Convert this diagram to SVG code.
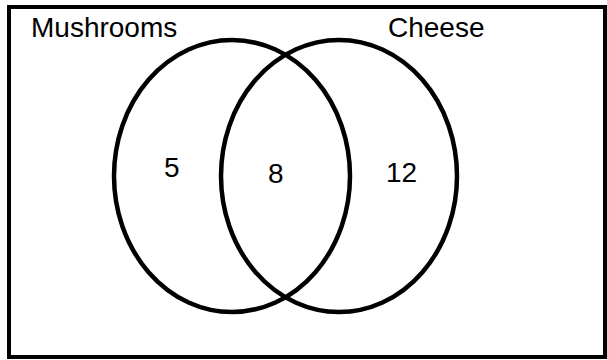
<svg xmlns="http://www.w3.org/2000/svg" width="607" height="360" viewBox="0 0 607 360">
<style>
.lbl{font-family:"Liberation Sans",Arial,sans-serif;font-size:28px;fill:#000}
.set{fill:none;stroke:#000;stroke-width:4.5}
</style>
<rect x="0" y="0" width="607" height="360" fill="#fff"/>
<g id="universe">
<rect x="9" y="7" width="596" height="350" fill="none" stroke="#000" stroke-width="4"/>
</g>
<g id="mushrooms">
<ellipse class="set" cx="232" cy="176" rx="118" ry="136"/>
<text class="lbl" x="31" y="37">Mushrooms</text>
</g>
<g id="cheese">
<ellipse class="set" cx="339" cy="176" rx="118" ry="136"/>
<text class="lbl" x="388" y="37">Cheese</text>
</g>
<g id="regions">
<text class="lbl" x="164" y="177">5</text>
<text class="lbl" x="268" y="183">8</text>
<text class="lbl" x="386" y="182">12</text>
</g>
</svg>
